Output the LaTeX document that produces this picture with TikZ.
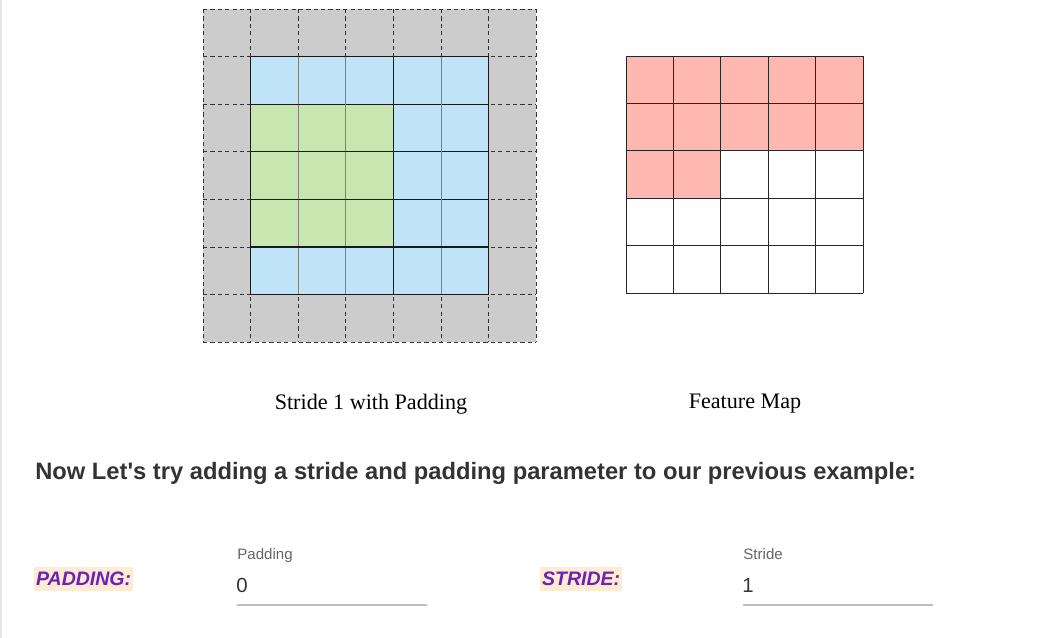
\documentclass[tikz,border=0pt]{standalone}
\usepackage{fontspec}
\setmainfont{Liberation Serif}
\newfontfamily\uifont{Liberation Sans}
\usetikzlibrary{positioning}

\definecolor{padgray}{HTML}{CCCCCC}
\definecolor{inblue}{HTML}{C0E4F7}
\definecolor{kgreen}{HTML}{C8E7B0}
\definecolor{fmpink}{HTML}{FFB8B0}
\definecolor{tagbg}{HTML}{FDEBD3}
\definecolor{tagpurple}{HTML}{6B22B5}
\definecolor{headgray}{HTML}{333333}

\begin{document}
\begin{tikzpicture}[
	x=0.02cm,
	y=-0.02cm,
	padline/.style={draw=black!80, dash pattern=on 2.4pt off 1.8pt, line width=0.5pt},
	cellline/.style={draw=black!50, line width=0.55pt},
	boldline/.style={draw=black!90, line width=0.6pt},
	fmline/.style={draw=black!85, line width=0.55pt},
	caption/.style={font=\fontsize{12.6pt}{14pt}\selectfont, inner sep=0pt},
	heading/.style={font=\uifont\bfseries\fontsize{13.5pt}{15pt}\selectfont, text=headgray, inner sep=0pt},
	tag/.style={font=\uifont\bfseries\itshape\fontsize{11.1pt}{13pt}\selectfont, text=tagpurple, fill=tagbg, inner xsep=1pt, inner ysep=3pt},
	fieldlabel/.style={font=\uifont\fontsize{8.6pt}{10pt}\selectfont, text=black!60, inner sep=0pt},
	fieldvalue/.style={font=\uifont\fontsize{11.6pt}{13pt}\selectfont, text=black!80, inner sep=0pt},
	field/.style={draw=black!25, line width=1.1pt}
  ]

  \useasboundingbox (0,0) rectangle (1047,638);
  \draw[black!10, line width=0.8pt] (1,0) -- (1,638);

  \def\cell{47.6}
  \def\fcell{47.4}

  % padded input with kernel
  \begin{scope}[shift={(203,9)}]
    \fill[padgray] (0,0) rectangle (7*\cell,7*\cell);
    \fill[inblue] (\cell,\cell) rectangle (6*\cell,6*\cell);
    \fill[kgreen] (\cell,2*\cell) rectangle (4*\cell,5*\cell);
    \foreach \i in {0,...,7} {
      \draw[padline] (\i*\cell,0) -- (\i*\cell,7*\cell);
      \draw[padline] (0,\i*\cell) -- (7*\cell,\i*\cell);
    }
    \foreach \i in {1,...,6} {
      \draw[cellline] (\i*\cell,\cell) -- (\i*\cell,6*\cell);
      \draw[boldline] (\cell,\i*\cell) -- (6*\cell,\i*\cell);
    }
    \draw[boldline] (\cell,\cell) -- (\cell,6*\cell);
    \draw[boldline] (4*\cell,\cell) -- (4*\cell,6*\cell);
    \draw[boldline] (6*\cell,\cell) -- (6*\cell,6*\cell);
  \end{scope}

  % feature map
  \begin{scope}[shift={(626,56)}]
    \fill[fmpink] (0,0) rectangle (5*\fcell,2*\fcell);
    \fill[fmpink] (0,2*\fcell) rectangle (2*\fcell,3*\fcell);
    \foreach \i in {0,...,5} {
      \draw[fmline] (\i*\fcell,0) -- (\i*\fcell,5*\fcell);
      \draw[fmline] (0,\i*\fcell) -- (5*\fcell,\i*\fcell);
    }
  \end{scope}

  \node[caption] (incap) at (371,404) {Stride 1 with Padding};
  \node[caption] (fmcap) at (745,404) {Feature Map};

  \node[heading, anchor=west] (intro) at (35,473) {Now Let's try adding a stride and padding parameter to our previous example:};

  % inputs
  \node[tag, anchor=west] (padtag) at (34,579) {PADDING:};
  \node[fieldlabel, anchor=base west] (padlabel) at (237,559) {Padding};
  \node[fieldvalue, anchor=base west] (padvalue) at (236,592) {0};
  \draw[field] (237,605) -- (427,605);

  \node[tag, anchor=west] (stridetag) at (540,579) {STRIDE:};
  \node[fieldlabel, anchor=base west] (stridelabel) at (743,559) {Stride};
  \node[fieldvalue, anchor=base west] (stridevalue) at (742,592) {1};
  \draw[field] (743,605) -- (933,605);

\end{tikzpicture}
\end{document}
